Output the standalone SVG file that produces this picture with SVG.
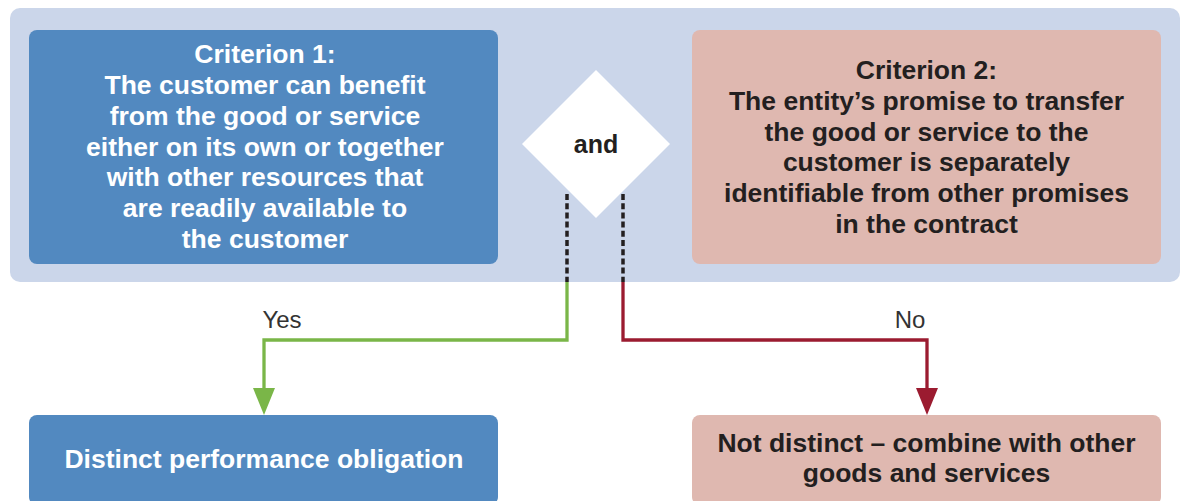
<svg xmlns="http://www.w3.org/2000/svg" width="1183" height="501" viewBox="0 0 1183 501">
<style>
.blue{fill:#5289c0}
.pink{fill:#dfb8b0}
.tw{font-family:"Liberation Sans",Arial,sans-serif;font-weight:bold;font-size:26.5px;fill:#ffffff;text-anchor:middle}
.td{font-family:"Liberation Sans",Arial,sans-serif;font-weight:bold;font-size:26.5px;fill:#231f20;text-anchor:middle}
.lbl{font-family:"Liberation Sans",Arial,sans-serif;font-size:24px;fill:#333333;text-anchor:middle}
.dash{stroke:#231f20;stroke-width:3.5;stroke-dasharray:6 3.2;fill:none}
.green{stroke:#7ab648;stroke-width:3.3;fill:none}
.red{stroke:#9b1b30;stroke-width:3.3;fill:none}
</style>
<defs>
<marker id="ag" viewBox="0 0 27 22" markerUnits="userSpaceOnUse" markerWidth="27" markerHeight="22" refX="15" refY="11" orient="auto"><path d="M0,0 L27,11 L0,22 z" fill="#7ab648"/></marker>
<marker id="ar" viewBox="0 0 27 22" markerUnits="userSpaceOnUse" markerWidth="27" markerHeight="22" refX="15" refY="11" orient="auto"><path d="M0,0 L27,11 L0,22 z" fill="#9b1b30"/></marker>
</defs>
<rect x="10" y="8" width="1170" height="274" rx="10" fill="#cbd6ea"/>
<g id="criterion1">
<rect class="blue" x="29" y="30" width="469" height="234" rx="8"/>
<text class="tw" x="265"><tspan x="265" y="63">Criterion 1:</tspan><tspan x="265" y="94">The customer can benefit</tspan><tspan x="265" y="125">from the good or service</tspan><tspan x="265" y="156">either on its own or together</tspan><tspan x="265" y="186">with other resources that</tspan><tspan x="265" y="217">are readily available to</tspan><tspan x="265" y="248">the customer</tspan></text>
</g>
<g id="criterion2">
<rect class="pink" x="692" y="30" width="469" height="234" rx="8"/>
<text class="td" x="926.5"><tspan x="926.5" y="79">Criterion 2:</tspan><tspan x="926.5" y="110">The entity’s promise to transfer</tspan><tspan x="926.5" y="141">the good or service to the</tspan><tspan x="926.5" y="171">customer is separately</tspan><tspan x="926.5" y="202">identifiable from other promises</tspan><tspan x="926.5" y="233">in the contract</tspan></text>
</g>
<g id="and">
<polygon points="596,70 670,144 596,218 522,144" fill="#ffffff"/>
<text class="td" x="596" y="153" style="font-size:25px">and</text>
</g>
<g id="connectors">
<line class="dash" x1="567" y1="194" x2="567" y2="282"/>
<line class="dash" x1="623" y1="194" x2="623" y2="282"/>
<path class="green" d="M567,282 V340 H264 V403" marker-end="url(#ag)"/>
<path class="red" d="M623,282 V340 H927 V403" marker-end="url(#ar)"/>
<text class="lbl" x="282" y="328">Yes</text>
<text class="lbl" x="910" y="328">No</text>
</g>
<g id="distinct">
<rect class="blue" x="29" y="415" width="469" height="90" rx="8"/>
<text class="tw" x="264" y="468">Distinct performance obligation</text>
</g>
<g id="notdistinct">
<rect class="pink" x="692" y="415" width="469" height="90" rx="8"/>
<text class="td" x="926.5"><tspan x="926.5" y="452">Not distinct – combine with other</tspan><tspan x="926.5" y="482">goods and services</tspan></text>
</g>
</svg>
